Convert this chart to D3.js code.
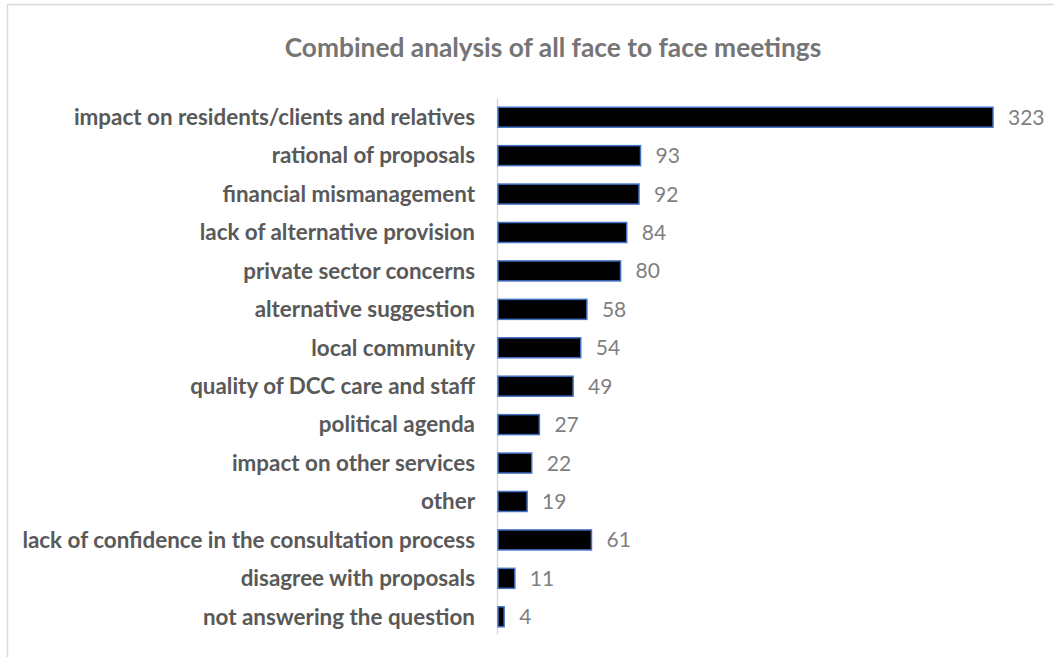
<!DOCTYPE html>
<html><head><meta charset="utf-8">
<script src="https://cdn.jsdelivr.net/npm/d3@7"></script>
<style>body{margin:0;background:#fff}svg{display:block}</style>
</head><body>
<script>
const categories = [
  "impact on residents/clients and relatives",
  "rational of proposals",
  "financial mismanagement",
  "lack of alternative provision",
  "private sector concerns",
  "alternative suggestion",
  "local community",
  "quality of DCC care and staff",
  "political agenda",
  "impact on other services",
  "other",
  "lack of confidence in the consultation process",
  "disagree with proposals",
  "not answering the question"
];
const values = [323, 93, 92, 84, 80, 58, 54, 49, 27, 22, 19, 61, 11, 4];
const title = "Combined analysis of all face to face meetings";

const W = 1054, H = 657;
const svg = d3.select("body").append("svg").attr("width", W).attr("height", H);

// chart border
svg.append("path").attr("d", `M7.5,${H} V4.5 H${W}`).attr("fill","none").attr("stroke","#d9d9d9").attr("stroke-width",1.5);

const m = {left: 498, right: 1054-993, top: 98, bottom: 657-636};
const x = d3.scaleLinear().domain([0, 323]).range([m.left, 993]);
const y = d3.scaleBand().domain(categories).range([m.top, H - m.bottom]).paddingInner(0.48).paddingOuter(0.24);

const fontLab = "Lato, 'Open Sans', sans-serif";

// title
const t = svg.append("text").attr("x", 553).attr("y", 57).attr("text-anchor","middle")
  .attr("font-family", fontLab).attr("font-weight","bold").attr("font-size", 25).attr("fill","#757575").text(title);
const tw = t.node().getComputedTextLength();
t.attr("font-size", 25 * 537 / tw);

// category labels
const labs = svg.append("g").selectAll("text").data(categories).join("text")
  .attr("x", 475).attr("y", d => y(d) + y.bandwidth()/2).attr("dy","0.35em")
  .attr("text-anchor","end").attr("font-family", fontLab).attr("font-weight","bold")
  .attr("font-size", 18).attr("fill","#595959").text(d => d);
let maxw = 0; labs.each(function(){ maxw = Math.max(maxw, this.getComputedTextLength()); });
labs.attr("font-size", 18 * 453 / maxw);

// axis line
svg.append("line").attr("x1", 497.5).attr("x2", 497.5).attr("y1", m.top).attr("y2", H - m.bottom - 2)
  .attr("stroke","#d9d9d9").attr("stroke-width",1.5);

// bars
svg.append("g").selectAll("rect").data(values).join("rect")
  .attr("x", x(0)).attr("y", (d,i) => y(categories[i]))
  .attr("width", d => x(d) - x(0)).attr("height", y.bandwidth())
  .attr("fill","#000").attr("stroke","#4472c4").attr("stroke-width",1.5);

// value labels
svg.append("g").selectAll("text").data(values).join("text")
  .attr("x", d => x(d) + 15).attr("y", (d,i) => y(categories[i]) + y.bandwidth()/2).attr("dy","0.36em")
  .attr("font-family", fontLab).attr("font-size", 21).attr("fill","#7f7f7f").text(d => d);
</script>
</body></html>
